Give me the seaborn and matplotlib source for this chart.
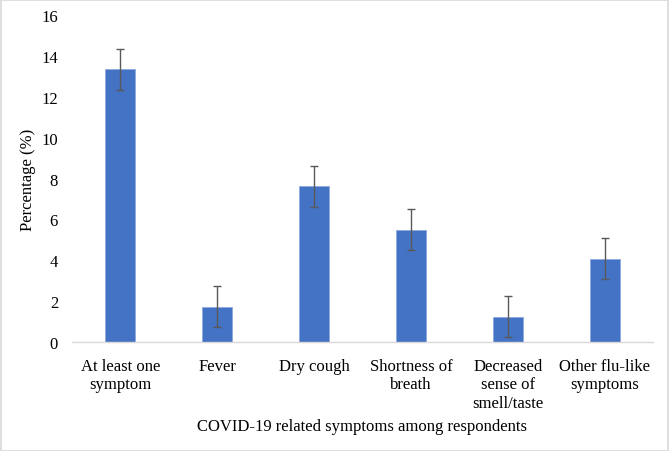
import matplotlib
matplotlib.use("Agg")
import matplotlib.pyplot as plt
import seaborn as sns
import pandas as pd
from matplotlib.patches import Rectangle

categories = ["At least one\nsymptom", "Fever", "Dry cough", "Shortness of\nbreath",
              "Decreased\nsense of\nsmell/taste", "Other flu-like\nsymptoms"]
values = [13.35, 1.72, 7.62, 5.49, 1.23, 4.08]
errors = [1.0, 1.0, 1.0, 1.0, 1.0, 1.0]
yticks = [0, 2, 4, 6, 8, 10, 12, 14, 16]

sns.set_theme(style="white")
plt.rcParams['font.family'] = ['Liberation Serif', 'DejaVu Serif']

df = pd.DataFrame({"cat": categories, "val": values})

fs = 12
fig = plt.figure(figsize=(6.69, 4.52), dpi=100)
ax = fig.add_axes([0.1076, 0.241, 0.976 - 0.1076, 0.9646 - 0.241])
sns.barplot(data=df, x="cat", y="val", color="#4472C4", saturation=1, width=0.31,
            edgecolor="#8FAADC", linewidth=0.6, ax=ax, errorbar=None)
ax.errorbar(x=list(range(len(categories))), y=values, yerr=errors, fmt="none",
            ecolor="#595959", elinewidth=1.0, capsize=3, capthick=1.0)

ax.set_xlim(-0.5, len(categories) - 0.5)
ax.set_ylim(0, 16)
ax.set_yticks(yticks)
ax.set_yticklabels([str(t) for t in yticks], fontsize=fs, color="black")
ax.tick_params(axis="x", labelsize=fs, labelcolor="black", length=0, pad=11.5)
ax.tick_params(axis="y", length=0, pad=10)
for s in ["top", "right", "left"]:
    ax.spines[s].set_visible(False)
ax.spines["bottom"].set_color("#D9D9D9")
ax.spines["bottom"].set_linewidth(1.0)
ax.set_ylabel("Percentage (%)", fontsize=fs, color="black", labelpad=4)
ax.set_xlabel("COVID-19 related symptoms among respondents", fontsize=fs, color="black", labelpad=5.5)

fig.patches.append(Rectangle((0.001, 0.001), 0.997, 0.997, transform=fig.transFigure,
                             fill=False, edgecolor="#D9D9D9", linewidth=1.2))

fig.savefig("out.png", dpi=100)
